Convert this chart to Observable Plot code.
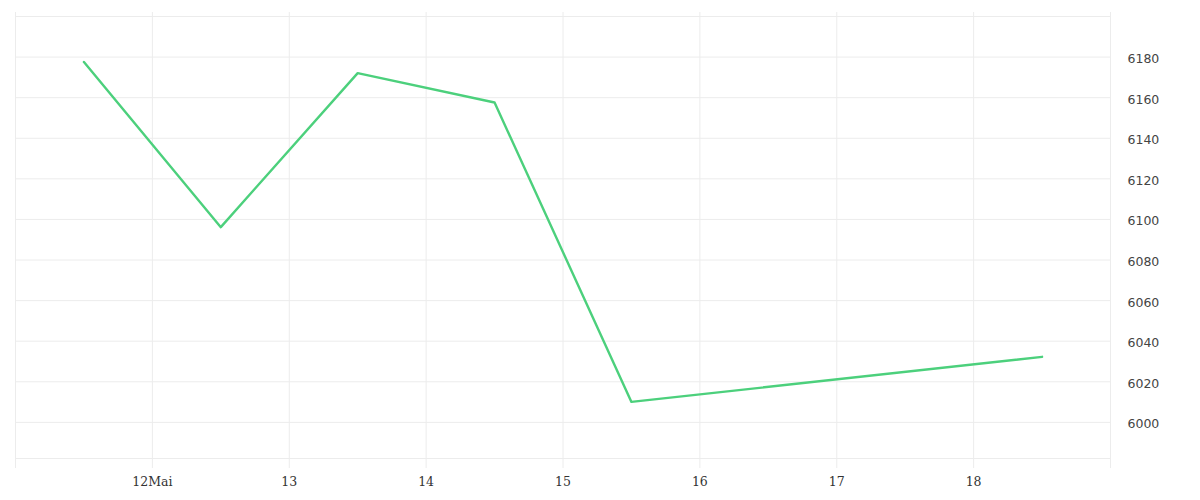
<!DOCTYPE html>
<html>
<head>
<meta charset="utf-8">
<script src="https://cdn.jsdelivr.net/npm/d3@7"></script>
<script src="https://cdn.jsdelivr.net/npm/@observablehq/plot@0.6"></script>
<style>
  html, body { margin: 0; padding: 0; background: #fff; }
  #chart { width: 1200px; height: 500px; }
</style>
</head>
<body>
<div id="chart"></div>
<script>
const dates = ["2024-05-11T12:00Z","2024-05-12T12:00Z","2024-05-13T12:00Z","2024-05-14T12:00Z","2024-05-15T12:00Z","2024-05-18T12:00Z"];
const values = [6177.6, 6096.2, 6172.1, 6157.6, 6010.1, 6032.3];
const tickDays = ["2024-05-12","2024-05-13","2024-05-14","2024-05-15","2024-05-16","2024-05-17","2024-05-18"];
const yTicks = [6000, 6020, 6040, 6060, 6080, 6100, 6120, 6140, 6160, 6180];
const xDomain = ["2024-05-11", "2024-05-19"];
const yDomain = [5982.2, 6200];

const data = dates.map((d, i) => ({date: new Date(d), value: values[i]}));
const tickDates = tickDays.map(d => new Date(d + "T00:00Z"));
const edgeDates = xDomain.map(d => new Date(d + "T00:00Z"));

const grid = "#ececec";
const plot = Plot.plot({
  width: 1200,
  height: 500,
  marginLeft: 15,
  marginRight: 90,
  marginTop: 16,
  marginBottom: 42,
  style: {background: "#fff", overflow: "visible"},
  x: {type: "utc", domain: edgeDates, label: null},
  y: {domain: yDomain, label: null},
  marks: [
    Plot.ruleY(yTicks, {stroke: grid, strokeWidth: 1}),
    Plot.ruleY(yDomain, {stroke: grid, strokeWidth: 1}),
    Plot.ruleX(tickDates.concat(edgeDates), {stroke: grid, strokeWidth: 1, insetTop: -4, insetBottom: -10}),
    Plot.line(data, {x: "date", y: "value", stroke: "#4cd07c", strokeWidth: 2.4}),
    Plot.axisX(tickDates, {
      label: null, tickSize: 0, tickPadding: 19,
      tickFormat: d => d.getUTCDate() === 12 ? "12Mai" : String(d.getUTCDate()),
      fontFamily: "DejaVu Serif", fontSize: 12.5, fill: "#333"
    }),
    Plot.axisY(yTicks, {
      label: null, anchor: "right", tickSize: 0, tickPadding: 17, dy: 2,
      tickFormat: d => String(d), textAnchor: "start",
      fontFamily: "DejaVu Sans", fontSize: 12.5, fill: "#444"
    })
  ]
});
document.getElementById("chart").appendChild(plot);
</script>
</body>
</html>
